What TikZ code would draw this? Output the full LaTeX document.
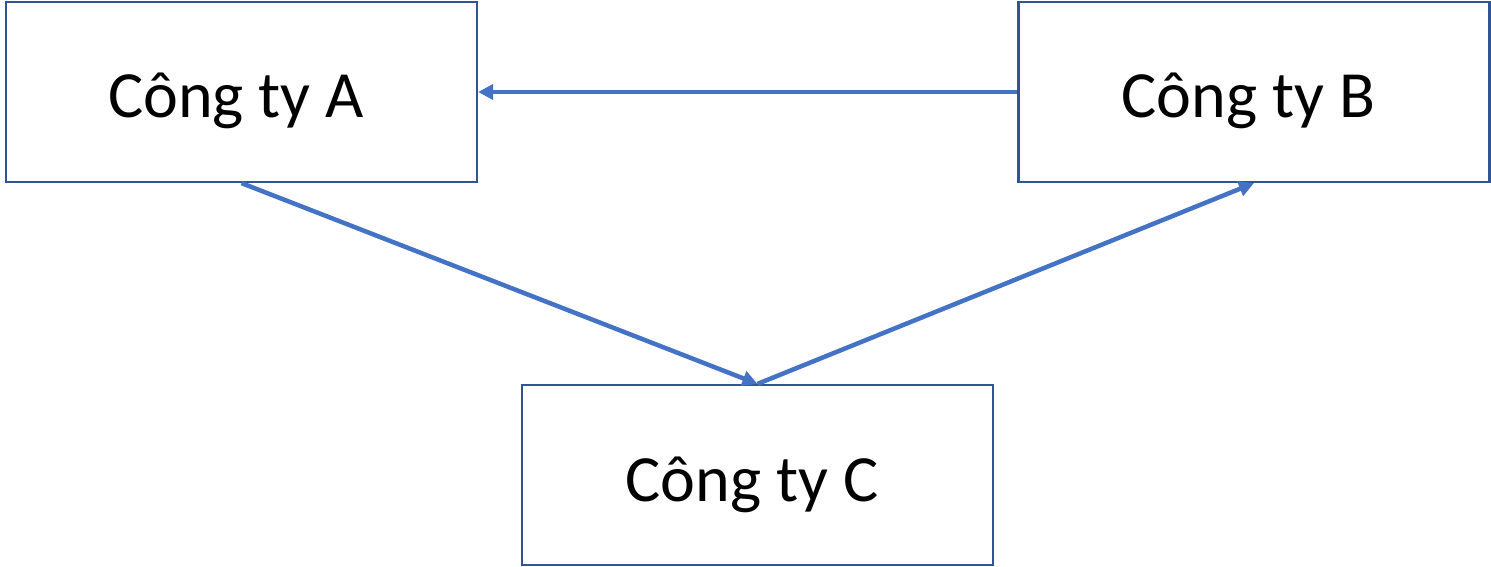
\documentclass[tikz,border=0pt]{standalone}
\usepackage{fontspec}
\setmainfont{Carlito}
\usetikzlibrary{arrows.meta}
\definecolor{boxline}{HTML}{2F5597}
\definecolor{arrowcol}{HTML}{4472C4}
\newcommand{\ctext}[1]{\raisebox{-26pt}[0pt][0pt]{#1}\kern11pt\relax}
\begin{document}
\begin{tikzpicture}[x=1pt,y=-1pt,
  company/.style={draw=boxline,line width=2.2pt,fill=white,minimum width=471pt,minimum height=180pt,inner sep=0pt,font=\fontsize{66pt}{72pt}\selectfont},
  link/.style={draw=arrowcol,line width=4.5pt,-{Triangle[length=15pt,width=15pt]}}]
\useasboundingbox (0,0) rectangle (1491,567);
\fill[white] (0,0) rectangle (1491,567);
\node[company] (A) at (241.5,92) {\ctext{Công ty A}};
\node[company] (B) at (1254,92) {\ctext{Công ty B}};
\node[company] (C) at (757.5,475) {\ctext{Công ty C}};
\draw[link] (B.west) -- (A.east);
\draw[link] (A.south) -- (C.north);
\draw[link] (C.north) -- (B.south);
\end{tikzpicture}
\end{document}
